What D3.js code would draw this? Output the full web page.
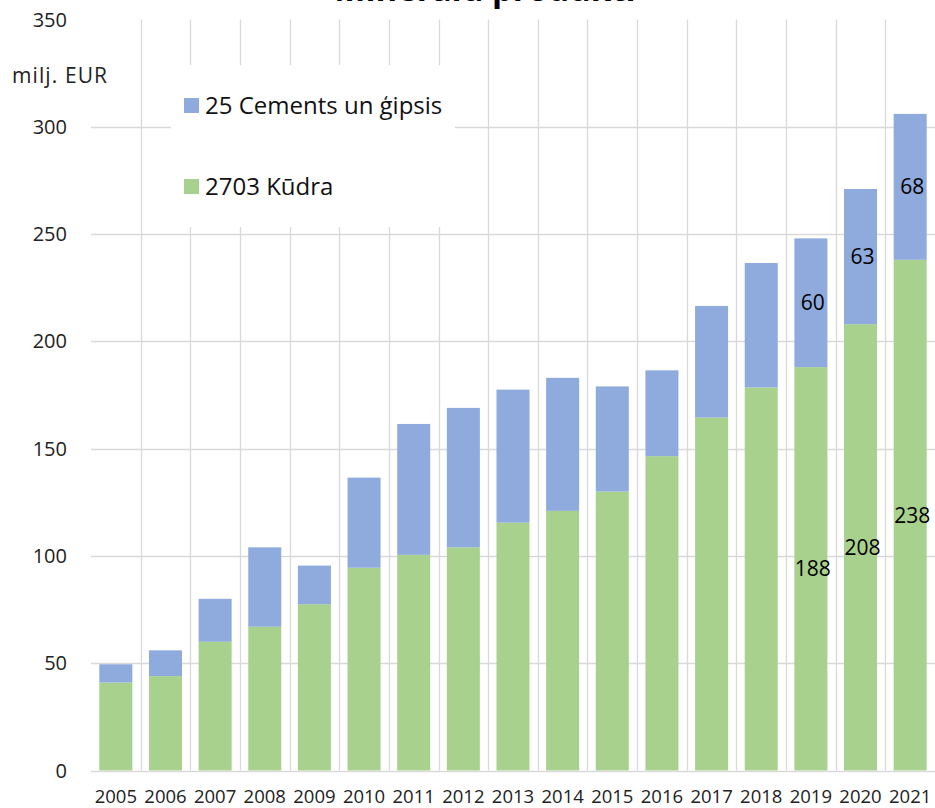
<!DOCTYPE html>
<html>
<head>
<meta charset="utf-8">
<script src="https://cdn.jsdelivr.net/npm/d3@7"></script>
<style>
  html, body { margin: 0; padding: 0; background: #fff; }
  svg { display: block; font-family: "Open Sans", sans-serif; }
</style>
</head>
<body>
<svg id="chart" width="935" height="808"></svg>
<script>
const years = ["2005","2006","2007","2008","2009","2010","2011","2012","2013","2014","2015","2016","2017","2018","2019","2020","2021"];
const kudra = [41, 44, 60, 67, 77.5, 94.5, 100.5, 104, 115.5, 121, 130, 146.5, 164.5, 178.5, 188, 208, 238];
const cements = [8.5, 12, 20, 37, 18, 42, 61, 65, 62, 62, 49, 40, 52, 58, 60, 63, 68];
const yTicks = [0, 50, 100, 150, 200, 250, 300, 350];
const seriesNames = ["25 Cements un ģipsis", "2703 Kūdra"];
const colors = { cements: "#8faadc", kudra: "#a9d18e" };
const labeledYears = ["2019", "2020", "2021"];

const svg = d3.select("#chart");
const pLeft = 91, pRight = 935, pTop = 19.5, pBottom = 770.5;

const x = d3.scaleBand().domain(years).range([pLeft, pRight]).paddingInner(0.335).paddingOuter(0.1675);
const xCat = d3.scaleBand().domain(years).range([pLeft, pRight]).padding(0);
const y = d3.scaleLinear().domain([0, 350]).range([pBottom, pTop]);

// title (cut off at top in reference)
svg.append("text").attr("x", 485).attr("y", 0.5).attr("text-anchor", "middle")
  .attr("font-size", 33).attr("font-weight", "bold").attr("fill", "#000")
  .text("Minerālu produkti");

// horizontal gridlines
svg.append("g").selectAll("line").data(yTicks.filter(t => t > 0 && t < 350)).join("line")
  .attr("x1", pLeft).attr("x2", pRight)
  .attr("y1", d => Math.round(y(d)) + 0.5).attr("y2", d => Math.round(y(d)) + 0.5)
  .attr("stroke", "#d9d9d9").attr("stroke-width", 1.3);

// vertical gridlines at category boundaries
svg.append("g").selectAll("line").data(years.slice(1)).join("line")
  .attr("x1", d => Math.round(xCat(d)) + 0.5).attr("x2", d => Math.round(xCat(d)) + 0.5)
  .attr("y1", y(350)).attr("y2", pBottom)
  .attr("stroke", "#d9d9d9").attr("stroke-width", 1.3);

// legend background (covers gridlines)
svg.append("rect").attr("x", 171).attr("y", 65).attr("width", 284).attr("height", 162).attr("fill", "#fff");

// stacked bars
const stacked = years.map((yr, i) => ({ year: yr, k: kudra[i], c: cements[i] }));
const bars = svg.append("g");
bars.selectAll("rect.k").data(stacked).join("rect").attr("class", "k")
  .attr("x", d => x(d.year)).attr("width", x.bandwidth())
  .attr("y", d => y(d.k)).attr("height", d => y(0) - y(d.k))
  .attr("fill", colors.kudra);
bars.selectAll("rect.c").data(stacked).join("rect").attr("class", "c")
  .attr("x", d => x(d.year)).attr("width", x.bandwidth())
  .attr("y", d => y(d.k + d.c)).attr("height", d => y(d.k) - y(d.k + d.c))
  .attr("fill", colors.cements);

// zero axis line
svg.append("line").attr("x1", pLeft).attr("x2", pRight)
  .attr("y1", Math.round(y(0)) + 0.5).attr("y2", Math.round(y(0)) + 0.5)
  .attr("stroke", "#d9d9d9").attr("stroke-width", 1.3);

// data labels
const lab = stacked.filter(d => labeledYears.includes(d.year));
const lg = svg.append("g").attr("font-size", 21).attr("fill", "#000").attr("text-anchor", "middle");
lg.selectAll("text.k").data(lab).join("text").attr("class", "k")
  .attr("x", d => x(d.year) + x.bandwidth() / 2 + 2)
  .attr("y", d => (y(0) + y(d.k)) / 2).attr("dy", "0.35em")
  .text(d => d3.format("d")(d.k));
lg.selectAll("text.c").data(lab).join("text").attr("class", "c")
  .attr("x", d => x(d.year) + x.bandwidth() / 2 + 2)
  .attr("y", d => (y(d.k) + y(d.k + d.c)) / 2).attr("dy", "0.35em")
  .text(d => d3.format("d")(d.c));

// y tick labels
svg.append("g").selectAll("text").data(yTicks).join("text")
  .attr("x", 67).attr("y", d => y(d)).attr("dy", "0.35em")
  .attr("text-anchor", "end").attr("font-size", 20).attr("fill", "#222")
  .text(d => d);

// unit label
svg.append("text").attr("x", 12).attr("y", 83).attr("font-size", 21)
  .attr("textLength", 95).attr("lengthAdjust", "spacing").attr("fill", "#222").text("milj. EUR");

// x tick labels
svg.append("g").selectAll("text").data(years).join("text")
  .attr("x", d => xCat(d) + xCat.bandwidth() / 2).attr("y", 803)
  .attr("text-anchor", "middle").attr("font-size", 18.5).attr("fill", "#222")
  .text(d => d);

// legend
const legend = svg.append("g");
const legY = [106, 187];
const legColors = [colors.cements, colors.kudra];
legend.selectAll("rect").data(seriesNames).join("rect")
  .attr("x", 184).attr("y", (d, i) => legY[i] - 8).attr("width", 15).attr("height", 15)
  .attr("fill", (d, i) => legColors[i]);
legend.selectAll("text").data(seriesNames).join("text")
  .attr("x", 205).attr("y", (d, i) => legY[i]).attr("dy", "0.35em")
  .attr("font-size", 24).attr("fill", "#111")
  .text(d => d);
</script>
</body>
</html>
